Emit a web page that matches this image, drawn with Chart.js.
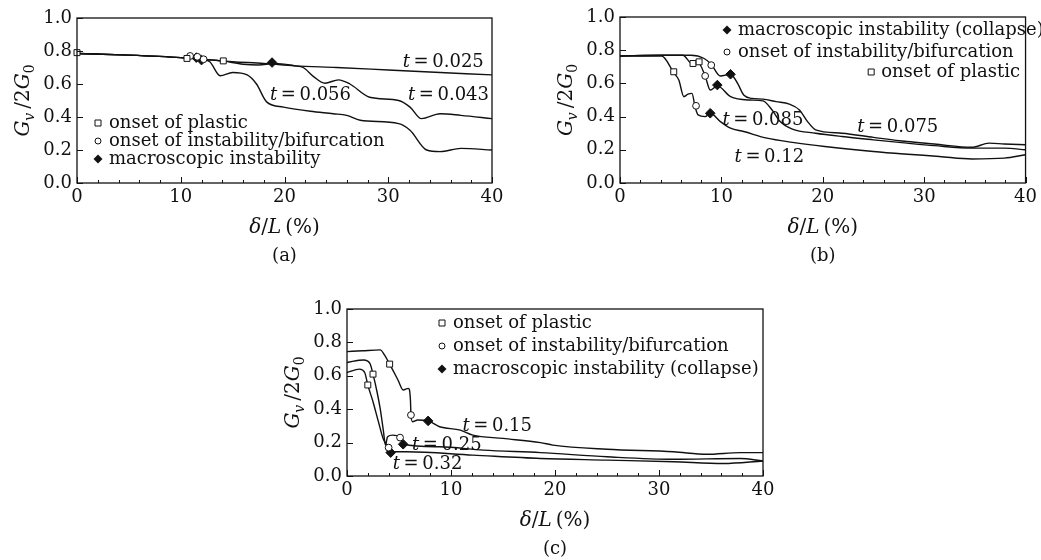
<!DOCTYPE html>
<html>
<head>
<meta charset="utf-8">
<script src="https://cdn.jsdelivr.net/npm/chart.js@4.4.1/dist/chart.umd.min.js"></script>
<style>
  body { margin: 0; background: #fff; width: 1041px; height: 560px; position: relative; overflow: hidden; }
  canvas { position: absolute; }
</style>
</head>
<body>
<canvas id="chartA" width="520" height="270" style="left:0;top:0"></canvas>
<canvas id="chartB" width="521" height="270" style="left:520px;top:0"></canvas>
<canvas id="chartC" width="560" height="270" style="left:230px;top:290px"></canvas>
<script>
// tick labels shared by the three panels
const xTicks = [0, 10, 20, 30, 40];
const yTicks = [0, 0.2, 0.4, 0.6, 0.8, 1.0];

// (a) t = 0.025, 0.043, 0.056   [delta/L %, Gv/2G0]
const aCurve025 = [[0,0.785],[5,0.775],[10,0.76],[12,0.75],[15,0.735],[18,0.725],[21,0.71],[25,0.70],[30,0.685],[35,0.67],[40,0.655]];
const aCurve043 = [[0,0.785],[5,0.775],[10,0.76],[12,0.75],[14,0.74],[16,0.72],[17.5,0.715],[19,0.725],[21,0.71],[21.8,0.70],[22.8,0.645],[23.9,0.605],[25.2,0.625],[26.3,0.60],[28.2,0.52],[31,0.50],[32.1,0.46],[33.2,0.39],[35,0.42],[37,0.41],[40,0.39]];
const aCurve056 = [[0,0.785],[5,0.775],[10,0.76],[12,0.75],[12.8,0.735],[13.8,0.65],[15,0.67],[16.4,0.655],[17.3,0.60],[18.3,0.49],[19.9,0.46],[22.5,0.435],[24.7,0.42],[26,0.41],[27.3,0.38],[31,0.36],[32.1,0.32],[33.7,0.20],[35,0.19],[37,0.21],[40,0.20]];
const aPlastic = [[0,0.79],[10.6,0.755],[14.1,0.74]];
const aBifurc = [[10.9,0.77],[11.6,0.765],[12.2,0.75]];
const aCollapse = [[11.5,0.76],[12.0,0.745],[18.8,0.73]];
const aNames = ['0.025', '0.043', '0.056'];
const aLegend = ['onset of plastic', 'onset of instability/bifurcation', 'macroscopic instability'];

// (b) t = 0.075, 0.085, 0.12
const bCurve075 = [[0,0.765],[4,0.77],[7,0.77],[8.3,0.75],[9,0.715],[9.9,0.645],[10.9,0.655],[11.6,0.60],[12.2,0.53],[13,0.51],[14.1,0.505],[15.4,0.49],[16.7,0.475],[17.7,0.44],[18.5,0.37],[19.3,0.32],[21.9,0.30],[25,0.275],[28.3,0.25],[31,0.235],[34.7,0.215],[36.4,0.24],[37.9,0.235],[40,0.23]];
const bCurve085 = [[0,0.765],[4,0.77],[6.2,0.77],[7.1,0.72],[7.7,0.725],[8.4,0.645],[8.9,0.56],[9.6,0.585],[10.9,0.52],[12.8,0.50],[14.1,0.495],[15,0.44],[15.8,0.37],[17,0.325],[19.3,0.30],[21.9,0.28],[25,0.26],[28.3,0.24],[31,0.225],[34.7,0.21],[37.9,0.21],[40,0.20]];
const bCurve12 = [[0,0.765],[4.1,0.765],[5.3,0.665],[5.8,0.62],[6.3,0.52],[6.7,0.535],[7.1,0.54],[7.4,0.46],[7.7,0.41],[8.4,0.40],[8.9,0.42],[9.9,0.37],[10.9,0.33],[12.2,0.31],[14.5,0.27],[17,0.245],[20.2,0.22],[25,0.19],[28,0.175],[31.5,0.16],[34.7,0.145],[37.9,0.15],[40,0.17]];
const bPlastic = [[5.3,0.67],[7.2,0.72],[7.8,0.73]];
const bBifurc = [[7.5,0.465],[8.4,0.645],[9.0,0.71]];
const bCollapse = [[8.9,0.42],[9.6,0.59],[10.9,0.655]];
const bNames = ['0.085', '0.12', '0.075'];
const bLegend = ['macroscopic instability (collapse)', 'onset of instability/bifurcation', 'onset of plastic'];

// (c) t = 0.15, 0.25, 0.32
const cCurve15 = [[0,0.745],[1.5,0.75],[3.2,0.755],[3.6,0.725],[4.1,0.67],[4.9,0.575],[5.4,0.515],[5.9,0.525],[6.1,0.455],[6.15,0.365],[6.3,0.325],[6.8,0.335],[7.8,0.33],[8.9,0.295],[10.9,0.275],[12.1,0.245],[15,0.225],[18.6,0.20],[19.8,0.185],[25,0.16],[31.4,0.145],[34.6,0.13],[37.8,0.14],[40,0.14]];
const cCurve25 = [[0,0.68],[1.6,0.695],[2.2,0.675],[2.5,0.61],[2.9,0.50],[3.2,0.40],[3.5,0.27],[3.7,0.185],[3.9,0.235],[4.4,0.245],[5.1,0.23],[5.4,0.19],[8.9,0.175],[13.1,0.155],[18.6,0.14],[25,0.115],[31.4,0.10],[37.8,0.105],[40,0.09]];
const cCurve32 = [[0,0.62],[1.2,0.64],[1.7,0.62],[2.0,0.545],[2.5,0.445],[3.0,0.33],[3.5,0.22],[4.0,0.17],[4.2,0.145],[5.7,0.145],[12.1,0.125],[18.6,0.105],[25,0.095],[31.4,0.085],[36.2,0.075],[40,0.09]];
const cPlastic = [[2.0,0.545],[2.5,0.61],[4.1,0.67]];
const cBifurc = [[4.0,0.17],[5.1,0.23],[6.15,0.365]];
const cCollapse = [[4.2,0.14],[5.4,0.19],[7.8,0.33]];
const cNames = ['0.15', '0.25', '0.32'];
const cLegend = ['onset of plastic', 'onset of instability/bifurcation', 'macroscopic instability (collapse)'];

const FONT = '"DejaVu Serif", "Liberation Serif", serif';
const INK = '#111';

function toXY(arr) {
  return arr.map(p => ({ x: p[0], y: p[1] }));
}

// draws a run of text pieces: n = upright, i = italic, si/sn = subscript
function rich(ctx, parts, x, y, align, size) {
  const fontOf = s => {
    const sub = s[0] === 's';
    const it = s.endsWith('i');
    return (it ? 'italic ' : '') + Math.round(sub ? size * 0.7 : size) + 'px ' + FONT;
  };
  let total = 0;
  parts.forEach(p => { ctx.font = fontOf(p[1]); total += ctx.measureText(p[0]).width; });
  let cx = align === 'center' ? x - total / 2 : (align === 'right' ? x - total : x);
  ctx.textAlign = 'left';
  ctx.textBaseline = 'middle';
  parts.forEach(p => {
    ctx.font = fontOf(p[1]);
    const dy = p[1][0] === 's' ? size * 0.3 : 0;
    ctx.fillText(p[0], cx, y + dy);
    cx += ctx.measureText(p[0]).width;
  });
  return total;
}

function marker(ctx, shape, x, y) {
  ctx.beginPath();
  if (shape === 'rect') {
    ctx.rect(x - 3, y - 3, 6, 6);
    ctx.stroke();
  } else if (shape === 'circle') {
    ctx.arc(x, y, 3, 0, Math.PI * 2);
    ctx.stroke();
  } else {
    ctx.moveTo(x, y - 4.5); ctx.lineTo(x + 4.5, y); ctx.lineTo(x, y + 4.5); ctx.lineTo(x - 4.5, y);
    ctx.closePath();
    ctx.fill();
  }
}

const decor = {
  id: 'decor',
  afterDraw(chart, args, o) {
    const { ctx, chartArea: ca, scales: { x, y } } = chart;
    ctx.save();
    ctx.strokeStyle = INK;
    ctx.fillStyle = INK;
    ctx.lineWidth = 1.3;
    ctx.strokeRect(ca.left, ca.top, ca.right - ca.left, ca.bottom - ca.top);

    // inward ticks
    ctx.lineWidth = 1;
    ctx.beginPath();
    for (let v = 0; v <= 40; v += 2) {
      const px = Math.round(x.getPixelForValue(v)) + 0.5;
      const len = v % 10 === 0 ? 6 : 3;
      ctx.moveTo(px, ca.bottom);
      ctx.lineTo(px, ca.bottom - len);
    }
    yTicks.forEach(v => {
      const py = Math.round(y.getPixelForValue(v)) + 0.5;
      ctx.moveTo(ca.left, py);
      ctx.lineTo(ca.left + 6, py);
    });
    ctx.stroke();

    // axis titles and caption
    const mid = (ca.left + ca.right) / 2;
    rich(ctx, [['δ', 'i'], ['/', 'n'], ['L', 'i'], ['\u2009(%)', 'n']], mid, ca.bottom + 45, 'center', 20);
    rich(ctx, [[o.caption, 'n']], mid, ca.bottom + 73, 'center', 18);
    ctx.save();
    ctx.translate(ca.left - 53, (ca.top + ca.bottom) / 2);
    ctx.rotate(-Math.PI / 2);
    rich(ctx, [['G', 'i'], ['v', 'si'], ['\u2009/2', 'n'], ['G', 'i'], ['0', 'sn']], 0, 0, 'center', 20);
    ctx.restore();

    // curve labels
    o.labels.forEach(l => {
      rich(ctx, [['t', 'i'], ['\u2009=\u2009' + l.text, 'n']], x.getPixelForValue(l.x), y.getPixelForValue(l.y), 'left', 18);
    });

    // legend
    ctx.lineWidth = 1;
    o.legend.forEach(it => {
      const yy = ca.top + it.dy;
      if (it.align === 'right') {
        ctx.font = '18px ' + FONT;
        const w = ctx.measureText(it.text).width;
        const tx = ca.left + it.dx - w;
        rich(ctx, [[it.text, 'n']], tx, yy, 'left', 18);
        marker(ctx, it.shape, tx - 10, yy);
      } else {
        marker(ctx, it.shape, ca.left + it.dx, yy);
        rich(ctx, [[it.text, 'n']], ca.left + it.dx + 11, yy, 'left', 18);
      }
    });
    ctx.restore();
  }
};

function makeChart(id, curves, plastic, bifurc, collapse, box, deco) {
  const datasets = curves.map(c => ({
    data: toXY(c),
    borderColor: INK,
    borderWidth: 1.4,
    pointRadius: 0,
    fill: false,
    cubicInterpolationMode: 'monotone',
    order: 1
  }));
  datasets.push({ data: toXY(plastic), showLine: false, pointStyle: 'rect', pointRadius: 4.2,
    borderColor: INK, backgroundColor: '#fff', borderWidth: 1, clip: false, order: 0 });
  datasets.push({ data: toXY(bifurc), showLine: false, pointStyle: 'circle', pointRadius: 3.4,
    borderColor: INK, backgroundColor: '#fff', borderWidth: 1, clip: false, order: 0 });
  datasets.push({ data: toXY(collapse), showLine: false, pointStyle: 'rectRot', pointRadius: 4.8,
    borderColor: INK, backgroundColor: INK, borderWidth: 1, clip: false, order: 0 });

  return new Chart(document.getElementById(id), {
    type: 'line',
    data: { datasets: datasets },
    plugins: [decor],
    options: {
      responsive: false,
      animation: false,
      devicePixelRatio: 1,
      layout: { padding: { left: 0, right: box.right, top: box.top, bottom: 0 } },
      plugins: { legend: { display: false }, tooltip: { enabled: false }, decor: deco },
      scales: {
        x: {
          type: 'linear', min: 0, max: 40,
          afterBuildTicks: s => { s.ticks = xTicks.map(v => ({ value: v })); },
          afterFit: s => { s.height = box.xh; },
          grid: { display: false, drawTicks: false },
          border: { display: false },
          ticks: { color: INK, padding: 4, maxRotation: 0, autoSkip: false,
            font: { family: FONT, size: 18 }, callback: v => String(v) }
        },
        y: {
          type: 'linear', min: 0, max: 1,
          afterBuildTicks: s => { s.ticks = yTicks.map(v => ({ value: v })); },
          afterFit: s => { s.width = box.yw; },
          grid: { display: false, drawTicks: false },
          border: { display: false },
          ticks: { color: INK, padding: 5, font: { family: FONT, size: 18 },
            callback: v => Number(v).toFixed(1) }
        }
      }
    }
  });
}

makeChart('chartA', [aCurve025, aCurve043, aCurve056], aPlastic, aBifurc, aCollapse,
  { right: 28, top: 18, xh: 87, yw: 77 },
  {
    caption: '(a)',
    labels: [
      { text: aNames[0], x: 31.4, y: 0.733 },
      { text: aNames[1], x: 31.9, y: 0.533 },
      { text: aNames[2], x: 18.6, y: 0.533 }
    ],
    legend: [
      { shape: 'rect', text: aLegend[0], dx: 21, dy: 105 },
      { shape: 'circle', text: aLegend[1], dx: 21, dy: 123 },
      { shape: 'diamond', text: aLegend[2], dx: 21, dy: 141 }
    ]
  });

makeChart('chartB', [bCurve075, bCurve085, bCurve12], bPlastic, bBifurc, bCollapse,
  { right: 6, top: 17, xh: 87, yw: 100 },
  {
    caption: '(b)',
    labels: [
      { text: bNames[0], x: 10.1, y: 0.38 },
      { text: bNames[1], x: 11.3, y: 0.157 },
      { text: bNames[2], x: 23.4, y: 0.337 }
    ],
    legend: [
      { shape: 'diamond', text: bLegend[0], dx: 107, dy: 13 },
      { shape: 'circle', text: bLegend[1], dx: 107, dy: 35 },
      { shape: 'rect', text: bLegend[2], dx: 400, dy: 55, align: 'right' }
    ]
  });

makeChart('chartC', [cCurve15, cCurve25, cCurve32], cPlastic, cBifurc, cCollapse,
  { right: 27, top: 19, xh: 84, yw: 117 },
  {
    caption: '(c)',
    labels: [
      { text: cNames[0], x: 11.1, y: 0.30 },
      { text: cNames[1], x: 6.25, y: 0.186 },
      { text: cNames[2], x: 4.4, y: 0.072 }
    ],
    legend: [
      { shape: 'rect', text: cLegend[0], dx: 95, dy: 14 },
      { shape: 'circle', text: cLegend[1], dx: 95, dy: 37 },
      { shape: 'diamond', text: cLegend[2], dx: 95, dy: 60 }
    ]
  });
</script>
</body>
</html>
